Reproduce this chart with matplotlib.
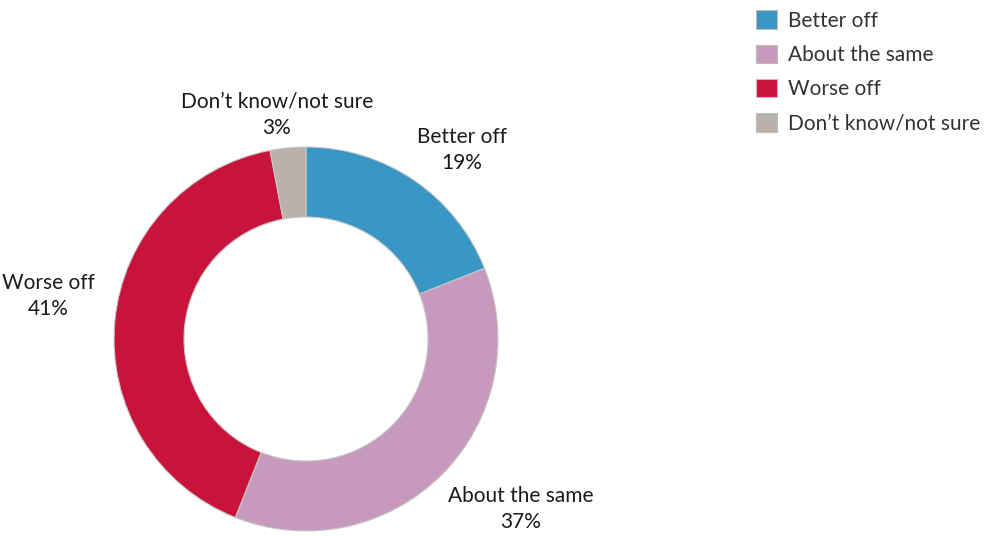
import matplotlib.pyplot as plt
from matplotlib.patches import Patch

# -----------------------------
# Data
# -----------------------------
categories = ["Better off", "About the same", "Worse off", "Don\u2019t know/not sure"]
values = [19, 37, 41, 3]
colors = ["#3A96C5", "#C799BD", "#C8133B", "#BAB0AC"]

# label positions in pixel space (x, y from top)
label_pos = [(462, 150), (521, 509), (48, 296), (277, 115)]

W, H = 996, 537
plt.rcParams["font.family"] = ["Lato", "DejaVu Sans"]

fig = plt.figure(figsize=(W / 100, H / 100), dpi=100)
ax = fig.add_axes([0, 0, 1, 1])

cx, cy, r_out, r_in = 306, H - 339, 192, 122

wedges, _ = ax.pie(
    values,
    colors=colors,
    startangle=90,
    counterclock=False,
    center=(cx, cy),
    radius=r_out,
    wedgeprops=dict(width=r_out - r_in, edgecolor="#C8C8C8", linewidth=0.8),
    frame=True,
)
ax.set_xlim(0, W)
ax.set_ylim(0, H)
ax.set_aspect("equal")
ax.axis("off")

for cat, val, (px, py) in zip(categories, values, label_pos):
    ax.text(px, H - py, f"{cat}\n{val}%", ha="center", va="center",
            fontsize=15, color="#1a1a1a", linespacing=1.42)

handles = [Patch(facecolor=c, edgecolor="#BDBDBD", linewidth=0.8) for c in colors]
fig.legend(handles, categories, loc="upper left",
           bbox_to_anchor=(746 / W, 1.0), frameon=False,
           fontsize=15, handlelength=1.0, handleheight=1.0,
           handletextpad=0.5, labelspacing=0.66, borderpad=0.0,
           labelcolor="#333333")

fig.savefig("out.png", dpi=100)
